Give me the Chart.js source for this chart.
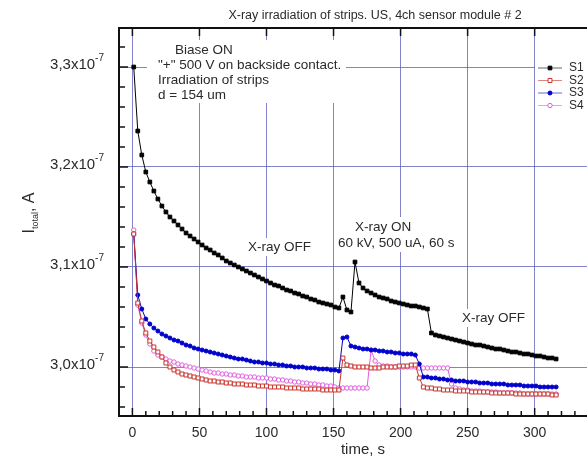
<!DOCTYPE html>
<html>
<head>
<meta charset="utf-8">
<script src="https://cdn.jsdelivr.net/npm/chart.js@4.4.0/dist/chart.umd.min.js"></script>
<style>
  html, body { margin: 0; padding: 0; background: #fff; overflow: hidden; }
  #wrap { width: 600px; height: 461px; }
</style>
</head>
<body>
<div id="wrap"><canvas id="chart" width="600" height="461"></canvas></div>
<script>
// values in units of 1e-7 A
const seriesNames = ['S1', 'S2', 'S3', 'S4'];

const times = [
  1, 4, 7, 10, 13, 16, 19, 22, 25, 28,
  31, 34, 37, 40, 43, 46, 49, 52, 55, 58,
  61, 64, 67, 70, 73, 76, 79, 82, 85, 88,
  91, 94, 97, 100, 103, 106, 109, 112, 115, 118,
  121, 124, 127, 130, 133, 136, 139, 142, 145, 148,
  151, 154, 157, 160, 163, 166, 169, 172, 175, 178,
  181, 184, 187, 190, 193, 196, 199, 202, 205, 208,
  211, 214, 217, 220, 223, 226, 229, 232, 235, 238,
  241, 244, 247, 250, 253, 256, 259, 262, 265, 268,
  271, 274, 277, 280, 283, 286, 289, 292, 295, 298,
  301, 304, 307, 310, 313, 316
];

const s1 = [
  3.300, 3.236, 3.212, 3.195, 3.185, 3.176, 3.168, 3.161, 3.155, 3.150,
  3.146, 3.142, 3.138, 3.134, 3.131, 3.128, 3.125, 3.122, 3.119, 3.117,
  3.114, 3.112, 3.109, 3.106, 3.104, 3.102, 3.100, 3.098, 3.096, 3.094,
  3.092, 3.090, 3.088, 3.086, 3.084, 3.082, 3.081, 3.079, 3.077, 3.076,
  3.074, 3.073, 3.071, 3.070, 3.068, 3.067, 3.065, 3.064, 3.063, 3.062,
  3.060, 3.059, 3.070, 3.057, 3.055, 3.105, 3.084, 3.079, 3.076, 3.074,
  3.072, 3.070, 3.069, 3.068, 3.066, 3.065, 3.064, 3.063, 3.062, 3.061,
  3.061, 3.060, 3.059, 3.058, 3.034, 3.032, 3.031, 3.030, 3.029, 3.028,
  3.027, 3.026, 3.025, 3.024, 3.023, 3.022, 3.022, 3.021, 3.020, 3.019,
  3.018, 3.018, 3.017, 3.016, 3.015, 3.015, 3.014, 3.013, 3.013, 3.012,
  3.011, 3.011, 3.010, 3.009, 3.009, 3.008
];

const s2 = [
  3.133, 3.064, 3.046, 3.034, 3.026, 3.020, 3.015, 3.010, 3.004, 3.000,
  2.997, 2.995, 2.993, 2.992, 2.991, 2.990, 2.989, 2.988, 2.987, 2.986,
  2.986, 2.985, 2.985, 2.984, 2.984, 2.983, 2.983, 2.983, 2.982, 2.982,
  2.982, 2.981, 2.981, 2.981, 2.980, 2.980, 2.980, 2.980, 2.979, 2.979,
  2.979, 2.979, 2.978, 2.978, 2.978, 2.978, 2.978, 2.977, 2.977, 2.977,
  2.977, 2.977, 3.009, 3.002, 3.001, 3.000, 3.000, 3.000, 3.000, 2.999,
  2.999, 2.999, 3.000, 3.000, 3.000, 3.000, 3.001, 3.001, 3.001, 3.002,
  3.002, 2.989, 2.980, 2.979, 2.979, 2.978, 2.978, 2.977, 2.977, 2.977,
  2.976, 2.976, 2.976, 2.976, 2.975, 2.975, 2.975, 2.975, 2.975, 2.974,
  2.974, 2.974, 2.974, 2.974, 2.974, 2.973, 2.973, 2.973, 2.973, 2.973,
  2.973, 2.973, 2.973, 2.973, 2.972, 2.972
];

const s3 = [
  3.133, 3.072, 3.058, 3.048, 3.043, 3.039, 3.036, 3.033, 3.031, 3.029,
  3.027, 3.026, 3.024, 3.022, 3.021, 3.019, 3.018, 3.017, 3.016, 3.015,
  3.014, 3.013, 3.012, 3.011, 3.010, 3.009, 3.008, 3.008, 3.007, 3.006,
  3.005, 3.005, 3.004, 3.004, 3.003, 3.003, 3.002, 3.002, 3.001, 3.001,
  3.000, 3.000, 3.000, 2.999, 2.999, 2.999, 2.998, 2.998, 2.998, 2.997,
  2.997, 2.996, 3.029, 3.030, 3.021, 3.020, 3.019, 3.018, 3.018, 3.017,
  3.017, 3.016, 3.016, 3.015, 3.015, 3.014, 3.014, 3.013, 3.013, 3.013,
  3.012, 3.003, 2.990, 2.990, 2.989, 2.989, 2.988, 2.988, 2.987, 2.987,
  2.986, 2.986, 2.986, 2.985, 2.985, 2.985, 2.984, 2.984, 2.984, 2.983,
  2.983, 2.983, 2.983, 2.982, 2.982, 2.982, 2.982, 2.981, 2.981, 2.981,
  2.981, 2.980, 2.980, 2.980, 2.980, 2.980
];

const s4 = [
  3.137, 3.062, 3.044, 3.032, 3.023, 3.016, 3.012, 3.010, 3.008, 3.006,
  3.005, 3.003, 3.002, 3.001, 3.000, 2.999, 2.998, 2.997, 2.996, 2.995,
  2.994, 2.994, 2.993, 2.993, 2.992, 2.992, 2.991, 2.991, 2.990, 2.990,
  2.990, 2.989, 2.989, 2.989, 2.988, 2.988, 2.987, 2.987, 2.986, 2.986,
  2.985, 2.985, 2.984, 2.984, 2.983, 2.983, 2.982, 2.982, 2.981, 2.981,
  2.980, 2.979, 2.979, 2.979, 2.979, 2.979, 2.979, 2.979, 2.979, 3.017,
  3.006, 3.002, 3.001, 3.001, 3.000, 3.000, 3.000, 3.000, 3.000, 3.000,
  3.000, 2.999, 2.999, 2.999, 2.999, 2.999, 2.999, 2.999, 2.999, 2.983,
  2.979, 2.978, 2.977, 2.977, 2.976, 2.976, 2.976, 2.975, 2.975, 2.975,
  2.975, 2.974, 2.974, 2.974, 2.974, 2.974, 2.974, 2.973, 2.973, 2.973,
  2.973, 2.973, 2.973, 2.973, 2.973, 2.973
];

const xTicks = [0, 50, 100, 150, 200, 250, 300];
const yTicks = [3.0, 3.1, 3.2, 3.3];
const yTickLabels = ['3,0', '3,1', '3,2', '3,3'];

const seriesValues = [s1, s2, s3, s4];
const styles = [
  { color: '#000000', shape: 'rect', fill: true, r: 2.6 },
  { color: '#c8342c', shape: 'rect', fill: false, r: 2.8 },
  { color: '#0000cc', shape: 'circle', fill: true, r: 2 },
  { color: '#e05ce0', shape: 'circle', fill: false, r: 2.2 }
];

const FONT = '"Liberation Sans", Arial, sans-serif';
const TEXT = '#2a2a2a';

// text boxes on the plot (white background hides the grid behind them)
const noteBoxes = [[147, 40, 199, 63], [244, 238, 70, 18], [334, 217, 127, 35], [458, 309, 69, 18]];
const notes = [
  { text: 'Biase ON', x: 175, y: 50 },
  { text: '"+" 500 V on backside contact.', x: 158, y: 65 },
  { text: 'Irradiation of strips', x: 158, y: 80 },
  { text: 'd = 154 um', x: 158, y: 95 },
  { text: 'X-ray OFF', x: 248, y: 247 },
  { text: 'X-ray ON', x: 355, y: 227 },
  { text: '60 kV, 500 uA, 60 s', x: 338, y: 243 },
  { text: 'X-ray OFF', x: 462, y: 318 }
];

function drawMarker(ctx, st, px, py) {
  ctx.beginPath();
  if (st.shape === 'rect') {
    const s = st.r * Math.SQRT1_2;
    ctx.rect(px - s, py - s, 2 * s, 2 * s);
  } else {
    ctx.arc(px, py, st.r, 0, Math.PI * 2);
  }
  ctx.fillStyle = st.fill ? st.color : '#fff';
  ctx.fill();
  ctx.strokeStyle = st.color;
  ctx.lineWidth = 1;
  ctx.stroke();
}

const decor = {
  id: 'decor',
  beforeDatasetsDraw(chart) {
    const ctx = chart.ctx;
    ctx.save();
    ctx.fillStyle = '#fff';
    noteBoxes.forEach(b => ctx.fillRect(b[0], b[1], b[2], b[3]));
    // legend box
    ctx.fillRect(535, 59, 65, 54);
    ctx.fillStyle = TEXT;
    ctx.font = '13.5px ' + FONT;
    ctx.textBaseline = 'middle';
    ctx.textAlign = 'left';
    notes.forEach(n => ctx.fillText(n.text, n.x, n.y));
    ctx.restore();
  },
  afterDraw(chart) {
    const { ctx, chartArea: a, scales: { x, y } } = chart;
    ctx.save();

    // frame
    ctx.strokeStyle = '#111';
    ctx.lineWidth = 2;
    ctx.beginPath();
    ctx.moveTo(a.right + 5, a.top);
    ctx.lineTo(a.left, a.top);
    ctx.lineTo(a.left, a.bottom);
    ctx.lineTo(a.right + 5, a.bottom);
    ctx.stroke();

    // x ticks (inward), minor every 10 s
    ctx.lineWidth = 1.5;
    for (let v = -10; v <= 340; v += 10) {
      const px = x.getPixelForValue(v);
      const major = xTicks.includes(v);
      const len = major ? 8 : 5;
      ctx.beginPath();
      ctx.moveTo(px, a.bottom);
      ctx.lineTo(px, a.bottom - len);
      ctx.stroke();
      if (major) {
        ctx.beginPath();
        ctx.moveTo(px, a.top);
        ctx.lineTo(px, a.top + len);
        ctx.stroke();
      }
    }
    // y ticks (inward), minor every 0.02
    for (let m = 148; m <= 166; m++) {
      const v = m * 0.02;
      const py = y.getPixelForValue(v);
      const major = Math.abs(v * 10 - Math.round(v * 10)) < 1e-6;
      ctx.beginPath();
      ctx.moveTo(a.left, py);
      ctx.lineTo(a.left + (major ? 9 : 6), py);
      ctx.stroke();
    }

    // x tick labels
    ctx.fillStyle = TEXT;
    ctx.font = '14px ' + FONT;
    ctx.textAlign = 'center';
    ctx.textBaseline = 'middle';
    xTicks.forEach(v => ctx.fillText(String(v), x.getPixelForValue(v), 433));

    // y tick labels: "3,3x10" with superscript "-7"
    yTicks.forEach((v, i) => {
      const py = y.getPixelForValue(v);
      ctx.font = '10px ' + FONT;
      const supW = ctx.measureText('-7').width;
      ctx.textAlign = 'right';
      ctx.fillText('-7', 104, py - 9);
      ctx.font = '15px ' + FONT;
      ctx.fillText(yTickLabels[i] + 'x10', 104 - supW, py - 2);
    });

    // axis titles
    ctx.textAlign = 'center';
    ctx.font = '15px ' + FONT;
    ctx.fillText('time, s', 363, 450);

    ctx.save();
    ctx.translate(28, 213);
    ctx.rotate(-Math.PI / 2);
    ctx.textAlign = 'left';
    ctx.textBaseline = 'alphabetic';
    ctx.font = '16px ' + FONT;
    const w1 = ctx.measureText('I').width;
    const w3 = ctx.measureText(', A').width;
    ctx.font = '9px ' + FONT;
    const w2 = ctx.measureText('total').width;
    let cx = -(w1 + w2 + w3) / 2;
    ctx.font = '16px ' + FONT;
    ctx.fillText('I', cx, 6);
    cx += w1;
    ctx.font = '9px ' + FONT;
    ctx.fillText('total', cx, 10);
    cx += w2;
    ctx.font = '16px ' + FONT;
    ctx.fillText(', A', cx, 6);
    ctx.restore();

    // title
    ctx.font = '12.5px ' + FONT;
    ctx.textAlign = 'center';
    ctx.textBaseline = 'middle';
    ctx.fillText('X-ray irradiation of strips. US, 4ch sensor module # 2', 375, 16);

    // legend
    seriesNames.forEach((name, k) => {
      const ly = 68 + k * 12.5;
      ctx.strokeStyle = styles[k].color;
      ctx.globalAlpha = 0.6;
      ctx.lineWidth = 1;
      ctx.beginPath();
      ctx.moveTo(538, ly);
      ctx.lineTo(562, ly);
      ctx.stroke();
      ctx.globalAlpha = 1;
      drawMarker(ctx, styles[k], 550, ly);
      ctx.fillStyle = TEXT;
      ctx.font = '12px ' + FONT;
      ctx.textAlign = 'left';
      ctx.textBaseline = 'middle';
      ctx.fillText(name, 569, ly);
    });

    ctx.restore();
  }
};

new Chart(document.getElementById('chart'), {
  type: 'line',
  data: {
    datasets: seriesNames.map((name, k) => ({
      label: name,
      data: times.map((t, i) => ({ x: t, y: seriesValues[k][i] })),
      borderColor: styles[k].color,
      borderWidth: 1,
      pointStyle: styles[k].shape,
      pointRadius: styles[k].r,
      pointBorderWidth: 1,
      pointBorderColor: styles[k].color,
      pointBackgroundColor: styles[k].fill ? styles[k].color : '#ffffff',
      tension: 0,
      fill: false
    }))
  },
  options: {
    responsive: false,
    animation: false,
    devicePixelRatio: 1,
    layout: { padding: { left: 119, top: 28, right: 3, bottom: 45 } },
    plugins: {
      legend: { display: false },
      tooltip: { enabled: false },
      title: { display: false }
    },
    scales: {
      x: {
        type: 'linear',
        min: -10,
        max: 345,
        afterBuildTicks: s => { s.ticks = xTicks.map(v => ({ value: v })); },
        ticks: { display: false },
        grid: { color: 'rgba(90, 90, 185, 0.75)', lineWidth: 1, drawTicks: false },
        border: { display: false }
      },
      y: {
        type: 'linear',
        min: 2.951,
        max: 3.339,
        afterBuildTicks: s => { s.ticks = yTicks.map(v => ({ value: v })); },
        ticks: { display: false },
        grid: { color: 'rgba(90, 90, 185, 0.75)', lineWidth: 1, drawTicks: false },
        border: { display: false }
      }
    }
  },
  plugins: [decor]
});
</script>
</body>
</html>
